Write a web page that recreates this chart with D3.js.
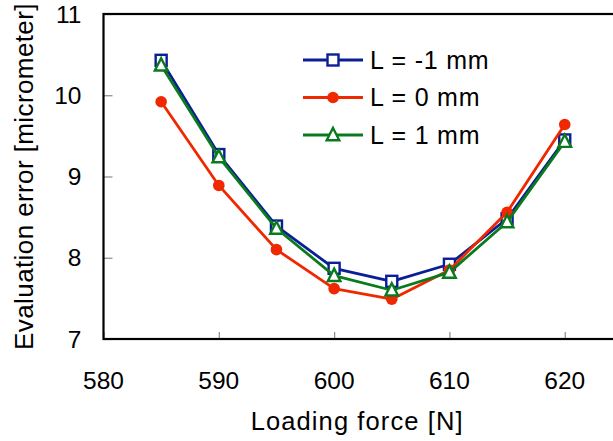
<!DOCTYPE html>
<html>
<head>
<meta charset="utf-8">
<script src="https://cdn.jsdelivr.net/npm/d3@7"></script>
<style>
  html, body { margin: 0; padding: 0; background: #fff; }
  svg { display: block; font-family: "Liberation Sans", Arial, Helvetica, sans-serif; }
</style>
</head>
<body>
<svg id="chart" width="613" height="441"></svg>
<script>
// Loading force (N) on the x axis
const forces = [585, 590, 595, 600, 605, 610, 615, 620];
// Evaluation error (micrometer) for each offset L
const errMinus1 = [10.43, 9.27, 8.39, 7.87, 7.71, 7.92, 8.48, 9.45];
const errZero   = [9.92, 8.89, 8.10, 7.62, 7.49, 7.85, 8.56, 9.64];
const errPlus1  = [10.37, 9.24, 8.36, 7.78, 7.60, 7.82, 8.44, 9.43];
const seriesNames = ["L = -1 mm", "L = 0 mm", "L = 1 mm"];
const xTicks = [580, 590, 600, 610, 620];
const yTicks = [7, 8, 9, 10, 11];

const series = [
  { name: seriesNames[0], values: errMinus1, color: "#0a1e96", symbol: "square" },
  { name: seriesNames[1], values: errZero,   color: "#f02800", symbol: "circle" },
  { name: seriesNames[2], values: errPlus1,  color: "#0a7a1e", symbol: "triangle" }
];

const svg = d3.select("#chart");
const x = d3.scaleLinear().domain([580, 625]).range([103.5, 622.4]);
const y = d3.scaleLinear().domain([7, 11]).range([339, 14]);

// tick marks (inside the frame)
const xAxis = d3.axisBottom(x).tickValues(xTicks).tickSize(-7).tickFormat("");
const yAxis = d3.axisLeft(y).tickValues(yTicks).tickSize(-9).tickFormat("");
svg.append("g").attr("transform", `translate(0,${y(7)})`).call(xAxis)
  .call(g => g.select(".domain").remove())
  .selectAll("line").attr("stroke", "#8a8a8a").attr("stroke-width", 1.2);
svg.append("g").attr("transform", `translate(${x(580)},0)`).call(yAxis)
  .call(g => g.select(".domain").remove())
  .selectAll("line").attr("stroke", "#8a8a8a").attr("stroke-width", 1.2);

// frame
svg.append("rect")
  .attr("x", x(580)).attr("y", y(11))
  .attr("width", x(625) - x(580)).attr("height", y(7) - y(11))
  .attr("fill", "none").attr("stroke", "#000").attr("stroke-width", 2.2);

// tick labels
svg.append("g").selectAll("text").data(xTicks).join("text")
  .attr("x", d => x(d)).attr("y", 388.5)
  .attr("text-anchor", "middle").attr("font-size", 24.5).attr("fill", "#000")
  .text(d => d);
svg.append("g").selectAll("text").data(yTicks).join("text")
  .attr("x", 81.5).attr("y", d => y(d) + 8.5)
  .attr("text-anchor", "end").attr("font-size", 24.5).attr("fill", "#000")
  .text(d => d);

// axis titles
svg.append("text").attr("x", x(602)).attr("y", 430)
  .attr("text-anchor", "middle").attr("font-size", 25.5)
  .attr("letter-spacing", 1.1).text("Loading force [N]");
svg.append("text").attr("transform", `translate(32.5,176.5) rotate(-90)`)
  .attr("text-anchor", "middle").attr("font-size", 26)
  .attr("letter-spacing", 0.4).text("Evaluation error [micrometer]");

function drawMarker(g, symbol, color, cx, cy) {
  if (symbol === "square") {
    g.append("rect").attr("x", cx - 5.5).attr("y", cy - 5.5).attr("width", 11).attr("height", 11)
      .attr("fill", "#fff").attr("stroke", color).attr("stroke-width", 2.4);
  } else if (symbol === "circle") {
    g.append("circle").attr("cx", cx).attr("cy", cy).attr("r", 5.8).attr("fill", color);
  } else {
    g.append("path").attr("d", `M${cx},${cy - 7}L${cx + 6.3},${cy + 5.3}L${cx - 6.3},${cy + 5.3}Z`)
      .attr("fill", "#fff").attr("stroke", color).attr("stroke-width", 2.4)
      .attr("stroke-linejoin", "miter");
  }
}

const line = d3.line().x((d, i) => x(forces[i])).y(d => y(d));
series.forEach(s => {
  const g = svg.append("g");
  g.append("path").datum(s.values).attr("d", line)
    .attr("fill", "none").attr("stroke", s.color).attr("stroke-width", 2.8)
    .attr("stroke-linejoin", "round");
  s.values.forEach((v, i) => drawMarker(g, s.symbol, s.color, x(forces[i]), y(v)));
});

// legend
const legendRows = [60, 97.5, 135];
series.forEach((s, i) => {
  const g = svg.append("g");
  const ly = legendRows[i];
  g.append("line").attr("x1", 303).attr("x2", 363).attr("y1", ly).attr("y2", ly)
    .attr("stroke", s.color).attr("stroke-width", 2.8);
  drawMarker(g, s.symbol, s.color, 333, ly);
  g.append("text").attr("x", 370).attr("y", ly + 8.8).attr("font-size", 25)
    .attr("letter-spacing", 0.8).text(s.name);
});
</script>
</body>
</html>
